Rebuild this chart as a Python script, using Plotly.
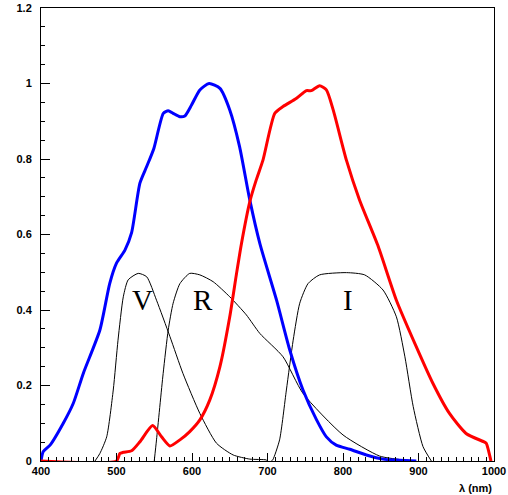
import plotly.graph_objects as go

# Blue curve (CCD QE-like)
blue_x = [400, 403, 412, 429.5, 442.8, 456, 478, 491, 500, 511, 520, 531, 540, 549.5, 562, 568.5, 575, 584, 590.5, 599.4, 610.4, 622.7, 637, 650, 663, 676.6, 690, 712, 729.5, 747, 765, 778, 791, 809, 831, 853, 875, 897]
blue_y = [0.0, 0.025, 0.042, 0.10, 0.153, 0.232, 0.347, 0.47, 0.524, 0.558, 0.605, 0.736, 0.78, 0.828, 0.921, 0.928, 0.921, 0.912, 0.914, 0.943, 0.983, 1.0, 0.987, 0.93, 0.833, 0.691, 0.575, 0.426, 0.294, 0.188, 0.109, 0.064, 0.042, 0.031, 0.016, 0.005, 0.002, 0.0]

# Red curve
red_x = [400, 500, 504.5, 509, 520, 531, 547.8, 559.7, 570.7, 584, 597, 610.4, 623.6, 637, 650, 659, 665.6, 676.6, 685, 694, 709.7, 720.6, 738, 751.5, 758, 769, 778, 787, 804.5, 822, 846, 870.7, 897, 919, 941, 963, 987.5, 989.8, 996]
red_y = [0.0, 0.0, 0.02, 0.023, 0.027, 0.051, 0.094, 0.064, 0.04, 0.056, 0.078, 0.109, 0.162, 0.25, 0.382, 0.497, 0.577, 0.687, 0.744, 0.797, 0.921, 0.939, 0.96, 0.981, 0.981, 0.994, 0.983, 0.93, 0.797, 0.691, 0.572, 0.426, 0.303, 0.206, 0.126, 0.073, 0.05, 0.047, 0.0]

# V filter
v_x = [471.5, 478, 487, 495.7, 502, 509, 515.5, 528.8, 540, 553, 570.7, 588, 610.4, 632.5, 654.5, 676.6, 698, 700]
v_y = [0.0, 0.02, 0.064, 0.188, 0.32, 0.435, 0.48, 0.497, 0.488, 0.426, 0.33, 0.232, 0.126, 0.047, 0.016, 0.005, 0.003, 0.0]

# R filter
r_x = [550, 553, 561.8, 568.5, 575, 584, 597, 610.4, 628, 650, 672, 689.8, 720.6, 747, 800, 848.6, 875, 897]
r_y = [0.0, 0.056, 0.232, 0.347, 0.418, 0.47, 0.497, 0.493, 0.475, 0.435, 0.387, 0.338, 0.276, 0.179, 0.069, 0.013, 0.004, 0.0]

# I filter
i_x = [705, 707, 716, 725, 734, 742.7, 753.7, 769, 804.5, 828.7, 853, 870.7, 882, 893, 906, 917]
i_y = [0.0, 0.003, 0.056, 0.188, 0.32, 0.418, 0.47, 0.493, 0.499, 0.493, 0.453, 0.382, 0.276, 0.144, 0.038, 0.0]

labels = ["V", "R", "I"]
label_x = [535, 614, 806.6]
label_y = [0.427, 0.427, 0.427]

fig = go.Figure()
for xs, ys in [(v_x, v_y), (r_x, r_y), (i_x, i_y)]:
    fig.add_trace(go.Scatter(x=xs, y=ys, mode="lines",
                             line=dict(color="black", width=1, shape="spline", smoothing=0.6),
                             showlegend=False, hoverinfo="skip"))
fig.add_trace(go.Scatter(x=blue_x, y=blue_y, mode="lines",
                         line=dict(color="#0000ff", width=3, shape="spline", smoothing=0.6),
                         showlegend=False))
fig.add_trace(go.Scatter(x=red_x, y=red_y, mode="lines",
                         line=dict(color="#ff0000", width=3, shape="spline", smoothing=0.6),
                         showlegend=False))

for t, x, y in zip(labels, label_x, label_y):
    fig.add_annotation(x=x, y=y, text=t, showarrow=False,
                       font=dict(family="Liberation Serif, Times New Roman, serif", size=29, color="black"),
                       xanchor="center", yanchor="middle")

fig.add_annotation(xref="paper", yref="paper", x=1, y=0, text="λ (nm)", showarrow=False,
                   xanchor="right", yanchor="middle", yshift=-27,
                   font=dict(family="Liberation Sans, Arial, sans-serif", size=11, color="black", weight="bold"))

tickfont = dict(family="Liberation Sans, Arial, sans-serif", size=11, color="black", weight="bold")

fig.update_xaxes(range=[400, 1000], showgrid=False, zeroline=False, automargin=False,
                 showline=True, linecolor="black", linewidth=1, mirror=True,
                 ticks="inside", ticklen=8, tickwidth=1, tickcolor="black",
                 tick0=400, dtick=100, tickfont=tickfont,
                 minor=dict(ticks="inside", ticklen=4, dtick=10, tickcolor="black", showgrid=False))
fig.update_yaxes(range=[0, 1.2], showgrid=False, zeroline=False, automargin=False,
                 showline=True, linecolor="black", linewidth=1, mirror=True,
                 ticks="inside", ticklen=9, tickwidth=1, tickcolor="black",
                 tick0=0, dtick=0.2, tickfont=tickfont, ticklabelstandoff=6,
                 minor=dict(ticks="inside", ticklen=4, dtick=0.05, tickcolor="black", showgrid=False))

fig.update_layout(width=508, height=495, plot_bgcolor="white", paper_bgcolor="white",
                  margin=dict(l=41, r=14, t=8, b=34))

fig.write_html("out.html", config={"displayModeBar": False},
               post_script="document.body.style.margin='0';document.body.style.overflow='hidden';")
